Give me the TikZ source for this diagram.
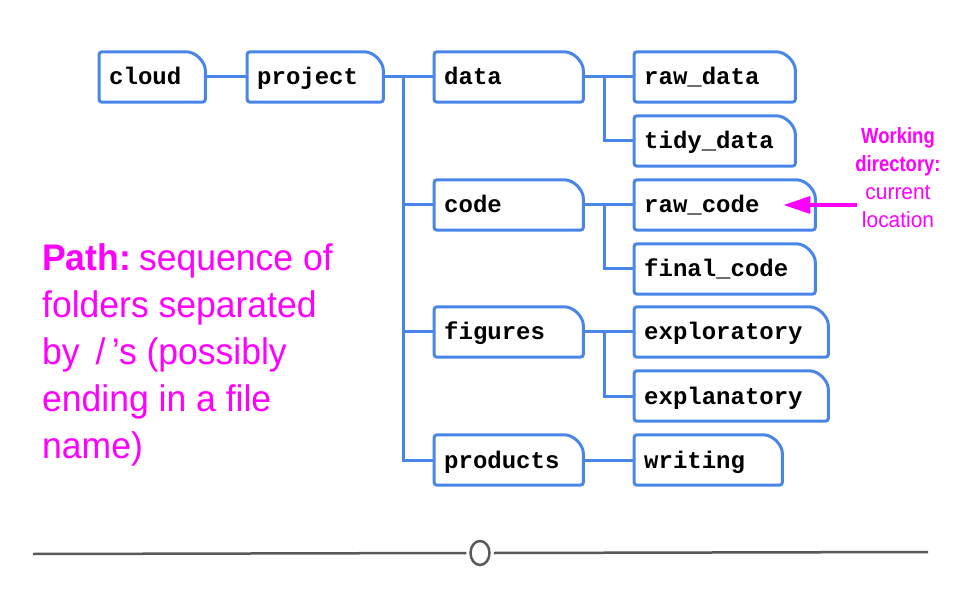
\documentclass[tikz,border=0pt]{standalone}
\usepackage{fontspec}
\setmonofont{Liberation Mono}
\newfontfamily\condfont[FakeStretch=0.96]{Liberation Sans}
\newfontfamily\labelfont[FakeStretch=0.95, BoldFeatures={FakeStretch=0.84}]{Liberation Sans}
\usepackage{tikz}
\usetikzlibrary{shapes.geometric, arrows.meta, positioning, calc}
\definecolor{myblue}{RGB}{74,134,232}
\definecolor{mymagenta}{RGB}{255,0,255}
\definecolor{mygray}{RGB}{89,89,89}
\tikzset{
  folder/.style={rectangle, anchor=west, minimum height=50pt,
    inner xsep=10pt, inner ysep=0pt, text height=20pt, text depth=4pt,
    align=left, font=\fontsize{24}{24}\selectfont\ttfamily\bfseries},
  folderline/.style={draw=myblue, line width=3pt, rounded corners=3pt},
  link/.style={myblue, line width=3pt},
  pointer/.style={-{Triangle[length=27pt, width=17pt]}, mymagenta, line width=3.5pt},
  note/.style={mymagenta, inner sep=0pt},
  rule/.style={mygray, line width=2.5pt}
}

\begin{document}
\begin{tikzpicture}[x=1pt, y=1pt]
  \useasboundingbox (0,0) rectangle (960,600);

  % Folders
  \node[folder, text width=86pt] (cloud) at (99, 523) {cloud};
  \node[folder, text width=116pt] (project) at (247, 523) {project};
  \node[folder, text width=129pt] (data) at (434, 523) {data};
  \node[folder, text width=129pt] (code) at (434, 395) {code};
  \node[folder, text width=129pt] (figures) at (434, 268) {figures};
  \node[folder, text width=129pt] (products) at (434, 140) {products};
  \node[folder, text width=141pt] (rawdata) at (634, 523) {raw\_data};
  \node[folder, text width=141pt] (tidydata) at (634, 459) {tidy\_data};
  \node[folder, text width=161pt] (rawcode) at (634, 395) {raw\_code};
  \node[folder, text width=161pt] (finalcode) at (634, 331) {final\_code};
  \node[folder, text width=174pt] (exploratory) at (634, 268) {exploratory};
  \node[folder, text width=174pt] (explanatory) at (634, 204) {explanatory};
  \node[folder, text width=128pt] (writing) at (634, 140) {writing};

  % Folder outlines (tab corner top right)
  \foreach \f in {cloud, project, data, code, figures, products, rawdata,
      tidydata, rawcode, finalcode, exploratory, explanatory, writing}
    \draw[folderline] (\f.south west) -- (\f.north west)
      -- ([xshift=-22pt]\f.north east) arc[start angle=90, end angle=0, radius=22pt]
      -- (\f.south east) -- cycle;

  % Connections
  \coordinate (split) at ($(project.east)!0.39!(data.west)$);
  \draw[link] (cloud) -- (project);
  \draw[link] (project) -- (data);
  \draw[link] (split) |- (code.west);
  \draw[link] (split) |- (figures.west);
  \draw[link] (split) |- (products.west);

  \draw[link] (data) -- (rawdata);
  \draw[link] ($(data.east)!0.42!(rawdata.west)$) |- (tidydata.west);
  \draw[link] (code) -- (rawcode);
  \draw[link] ($(code.east)!0.42!(rawcode.west)$) |- (finalcode.west);
  \draw[link] (figures) -- (exploratory);
  \draw[link] ($(figures.east)!0.42!(exploratory.west)$) |- (explanatory.west);
  \draw[link] (products) -- (writing);

  % Working directory label
  \node[note, align=center, anchor=base, font=\fontsize{22}{28}\selectfont\labelfont]
    (wdlabel) at (898, 372)
    {\textbf{Working}\\\textbf{directory:}\\current\\location};
  \draw[pointer] ([xshift=2pt]wdlabel.west |- rawcode.east) -- ([xshift=-32pt]rawcode.east);

  % Path definition
  \node[note, align=left, anchor=base west, font=\fontsize{37}{47}\selectfont\condfont]
    (pathnote) at (42, 142)
    {\textbf{Path:}\hspace{-5pt} sequence of\\folders separated\\by \,/\,’s (possibly\\ending in a file\\name)};

  % Slider rule
  \node[ellipse, draw=mygray, line width=2.5pt, minimum width=19pt,
    minimum height=24pt, inner sep=0pt] (knob) at (480, 47) {};
  \coordinate (rulestart) at (33, 46);
  \coordinate (ruleend) at (928, 48);
  \draw[rule] (rulestart) -- ([xshift=-3pt]knob.west);
  \draw[rule] ([xshift=3pt]knob.east) -- (ruleend);
\end{tikzpicture}
\end{document}
